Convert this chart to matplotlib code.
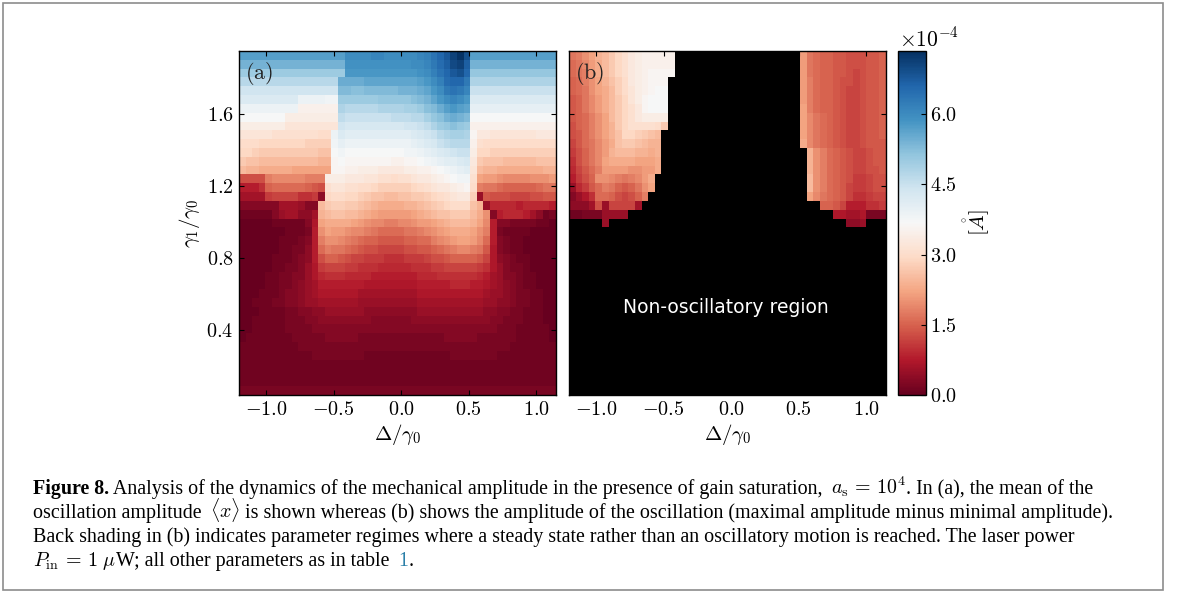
import numpy as np
import matplotlib
matplotlib.use("Agg")
import matplotlib.pyplot as plt
from matplotlib.patches import Rectangle

plt.rcParams['mathtext.fontset'] = 'cm'
plt.rcParams['font.family'] = ['Liberation Serif', 'DejaVu Serif']

W, H = 1179, 592

# mean amplitude (a), units of 1e-5 A, rows from the top, split into three column blocks
a_left = [
    [57]*16,
    [54]*16,
    [50]*16,
    [47]*15 + [55],
    [44]*15 + [53],
    [42, 42, 42, 42, 42, 42, 42, 42, 42, 39, 39, 39, 39, 38, 38, 50],
    [39, 39, 39, 39, 39, 39, 39, 39, 39, 35, 35, 35, 35, 35, 35, 48],
    [37, 37, 37, 37, 37, 37, 37, 34, 34, 34, 34, 34, 34, 34, 34, 46],
    [34, 34, 34, 34, 34, 34, 34, 32, 32, 32, 32, 32, 32, 32, 32, 44],
    [32, 32, 32, 32, 32, 31, 31, 31, 31, 31, 31, 31, 30, 30, 39, 42],
    [30, 30, 30, 29, 29, 29, 29, 29, 29, 29, 28, 28, 28, 28, 38, 40],
    [29, 29, 28, 27, 27, 27, 27, 27, 27, 27, 27, 27, 26, 26, 37, 38],
    [27, 26, 26, 25, 25, 25, 25, 25, 25, 25, 25, 25, 24, 24, 36, 37],
    [25, 24, 24, 23, 23, 23, 23, 23, 22, 22, 22, 22, 22, 22, 36, 36],
    [13, 13, 13, 13, 18, 19, 19, 19, 19, 19, 18, 18, 18, 34, 34, 34],
    [8, 8, 8, 10, 15, 16, 16, 16, 16, 16, 15, 14, 13, 31, 32, 32],
    [6, 6, 6, 6, 11, 12, 12, 12, 12, 10, 10, 11, 4, 29, 30, 30],
    [3, 3, 3, 3, 3, 3, 6, 6, 6, 5, 3, 3, 25, 27, 28, 28],
    [1, 1, 1, 1, 1, 3, 5, 6, 6, 4, 4, 6, 24, 25, 26, 26],
    [0, 0, 0, 0, 0, 1, 1, 1, 1, 1, 3, 7, 22, 23, 23, 23],
    [0, 0, 0, 0, 0, 0, 0, 1, 1, 1, 2, 8, 20, 22, 21, 21],
    [0, 0, 0, 0, 0, 0, 1, 1, 1, 2, 3, 8, 18, 20, 20, 19],
    [0, 0, 0, 0, 0, 0, 1, 1, 2, 2, 4, 8, 16, 18, 17, 17],
    [0, 0, 0, 0, 0, 1, 1, 1, 2, 3, 4, 8, 13, 15, 15, 14],
    [0, 0, 0, 0, 0, 1, 1, 2, 2, 3, 5, 7, 11, 12, 12, 12],
    [0, 0, 0, 0, 1, 1, 2, 2, 3, 3, 5, 7, 9, 10, 10, 10],
    [0, 0, 0, 0, 1, 1, 2, 2, 3, 4, 5, 6, 8, 8, 8, 8],
    [0, 0, 0, 1, 1, 1, 2, 3, 3, 4, 5, 6, 7, 7, 7, 7],
    [0, 0, 1, 1, 1, 2, 2, 3, 3, 4, 5, 5, 6, 6, 6, 6],
    [0, 0, 0, 1, 1, 1, 1, 2, 2, 3, 3, 4, 4, 5, 5, 5],
    [0, 0, 1, 1, 1, 1, 1, 2, 2, 2, 3, 3, 4, 4, 4, 4],
    [0, 0, 1, 1, 1, 1, 1, 2, 2, 2, 2, 3, 3, 3, 3, 3],
    [0, 1, 1, 1, 1, 1, 1, 1, 2, 2, 2, 2, 2, 3, 3, 3],
    [1, 1, 1, 1, 1, 1, 1, 1, 1, 2, 2, 2, 2, 2, 2, 2],
    [1, 1, 1, 1, 1, 1, 1, 1, 1, 1, 1, 2, 2, 2, 2, 2],
    [1, 1, 1, 1, 1, 1, 1, 1, 1, 1, 1, 1, 1, 1, 1, 1],
    [1, 1, 1, 1, 1, 1, 1, 1, 1, 1, 1, 1, 1, 1, 1, 1],
    [1, 1, 1, 1, 1, 1, 1, 1, 1, 1, 1, 1, 1, 1, 1, 1],
    [2, 2, 2, 2, 2, 2, 2, 2, 2, 2, 2, 2, 2, 2, 2, 2],
]
a_mid = [
    [60, 60, 60, 60, 61, 61, 60, 60, 60, 60, 60, 61, 62, 64, 66, 68, 71, 73, 69],
    [59, 59, 59, 59, 59, 59, 59, 59, 59, 59, 60, 60, 61, 63, 65, 67, 70, 71, 67],
    [58, 58, 58, 58, 58, 58, 58, 58, 58, 58, 58, 59, 60, 62, 64, 66, 68, 69, 66],
    [55, 55, 55, 56, 56, 56, 56, 56, 56, 56, 56, 57, 58, 60, 62, 65, 66, 66, 63],
    [53, 52, 52, 53, 53, 53, 53, 53, 54, 54, 54, 55, 56, 58, 60, 63, 64, 63, 61],
    [50, 50, 50, 50, 50, 51, 51, 51, 51, 51, 52, 53, 54, 56, 58, 60, 61, 60, 58],
    [47, 47, 47, 47, 47, 48, 48, 48, 48, 49, 49, 50, 52, 53, 55, 57, 58, 57, 56],
    [45, 45, 45, 45, 45, 45, 45, 46, 46, 46, 47, 47, 49, 51, 52, 54, 55, 54, 53],
    [43, 43, 43, 43, 43, 43, 43, 43, 43, 44, 44, 45, 46, 48, 50, 51, 52, 51, 50],
    [41, 41, 41, 41, 41, 41, 41, 41, 41, 41, 42, 43, 44, 45, 47, 48, 49, 49, 48],
    [39, 39, 39, 39, 39, 39, 39, 39, 39, 39, 40, 41, 42, 43, 45, 46, 47, 47, 47],
    [37, 37, 37, 37, 37, 37, 37, 37, 37, 38, 38, 39, 40, 41, 42, 43, 44, 45, 45],
    [36, 36, 36, 36, 36, 36, 36, 35, 35, 36, 36, 37, 38, 39, 40, 41, 41, 42, 43],
    [35, 35, 34, 34, 34, 33, 33, 33, 33, 34, 34, 35, 35, 36, 37, 38, 39, 40, 41],
    [33, 33, 33, 32, 32, 31, 31, 30, 31, 31, 32, 33, 33, 34, 35, 36, 37, 38, 38],
    [31, 31, 30, 30, 29, 28, 28, 28, 28, 28, 29, 30, 31, 32, 33, 33, 34, 35, 36],
    [29, 29, 28, 27, 26, 26, 25, 25, 26, 26, 27, 27, 28, 29, 30, 31, 32, 33, 33],
    [27, 27, 26, 25, 24, 23, 23, 23, 23, 24, 24, 25, 26, 27, 28, 29, 30, 30, 30],
    [25, 25, 24, 23, 22, 21, 21, 21, 21, 21, 22, 23, 24, 25, 26, 26, 27, 27, 27],
    [23, 22, 21, 20, 19, 19, 18, 18, 19, 19, 20, 21, 21, 22, 23, 24, 25, 25, 25],
    [20, 19, 19, 18, 17, 16, 16, 16, 16, 17, 17, 18, 19, 20, 21, 22, 23, 23, 23],
    [18, 17, 16, 15, 15, 14, 14, 14, 14, 15, 15, 16, 16, 18, 19, 20, 21, 22, 22],
    [16, 15, 14, 13, 13, 12, 12, 12, 12, 13, 13, 14, 14, 15, 16, 17, 18, 19, 19],
    [13, 12, 12, 11, 11, 11, 10, 10, 10, 11, 11, 11, 12, 13, 13, 14, 15, 15, 15],
    [11, 11, 10, 10, 10, 9, 9, 9, 9, 9, 10, 10, 10, 11, 11, 12, 12, 12, 12],
    [9, 9, 9, 9, 8, 8, 8, 8, 8, 8, 8, 9, 9, 9, 10, 10, 10, 10, 10],
    [8, 8, 8, 7, 7, 7, 7, 7, 7, 7, 7, 8, 8, 8, 8, 8, 9, 9, 9],
    [7, 7, 6, 6, 6, 6, 6, 6, 6, 6, 6, 7, 7, 7, 7, 7, 7, 7, 7],
    [6, 6, 5, 5, 5, 5, 5, 5, 5, 5, 5, 6, 6, 6, 6, 6, 6, 6, 6],
    [5, 5, 5, 4, 4, 4, 4, 4, 4, 4, 4, 5, 5, 5, 5, 5, 5, 5, 5],
    [4, 4, 4, 4, 3, 3, 3, 3, 3, 3, 4, 4, 4, 4, 4, 4, 4, 4, 4],
    [3, 3, 3, 3, 3, 3, 3, 3, 3, 3, 3, 3, 3, 3, 3, 3, 3, 3, 3],
    [3, 3, 2, 2, 2, 2, 2, 2, 2, 2, 2, 2, 2, 2, 2, 3, 3, 3, 3],
    [2, 2, 2, 2, 2, 2, 2, 2, 2, 2, 2, 2, 2, 2, 2, 2, 2, 2, 2],
    [2, 2, 2, 1, 1, 1, 1, 1, 1, 1, 1, 1, 1, 1, 1, 1, 2, 2, 2],
    [1, 1, 1, 1, 1, 1, 1, 1, 1, 1, 1, 1, 1, 1, 1, 1, 1, 1, 1],
    [1, 1, 1, 1, 1, 1, 1, 1, 1, 1, 1, 1, 1, 1, 1, 1, 1, 1, 1],
    [1, 1, 1, 1, 1, 1, 1, 1, 1, 1, 1, 1, 1, 1, 1, 1, 1, 1, 1],
    [2, 2, 2, 2, 2, 2, 2, 2, 2, 2, 2, 2, 2, 2, 2, 2, 2, 2, 2],
]
a_right = [
    [57]*13,
    [54]*13,
    [51]*13,
    [48]*13,
    [45]*13,
    [42]*13,
    [40]*13,
    [37]*13,
    [35]*13,
    [36, 33, 33, 32, 32, 32, 32, 32, 32, 32, 33, 33, 33],
    [35, 31, 30, 30, 30, 30, 30, 30, 30, 30, 30, 30, 30],
    [34, 29, 29, 28, 28, 28, 28, 28, 28, 28, 28, 28, 28],
    [33, 27, 26, 26, 26, 25, 25, 25, 25, 25, 26, 26, 26],
    [32, 25, 24, 24, 23, 23, 23, 23, 23, 23, 23, 24, 24],
    [31, 22, 21, 21, 20, 19, 19, 19, 19, 20, 20, 20, 21],
    [30, 18, 17, 17, 16, 15, 15, 15, 15, 15, 16, 17, 17],
    [28, 5, 14, 13, 13, 13, 12, 12, 12, 13, 13, 14, 14],
    [26, 24, 5, 9, 9, 9, 9, 8, 9, 9, 9, 9, 8],
    [25, 23, 20, 3, 8, 9, 9, 9, 8, 6, 4, 1, 2],
    [24, 22, 19, 8, 3, 3, 2, 2, 2, 2, 1, 1, 0],
    [22, 20, 18, 8, 2, 1, 1, 1, 1, 0, 0, 0, 0],
    [21, 19, 16, 8, 3, 2, 1, 1, 0, 0, 0, 0, 0],
    [18, 17, 14, 7, 3, 2, 1, 1, 0, 0, 0, 0, 0],
    [15, 14, 12, 7, 4, 3, 2, 1, 1, 0, 0, 0, 0],
    [12, 11, 10, 7, 5, 3, 2, 2, 1, 0, 0, 0, 0],
    [10, 9, 8, 6, 5, 3, 3, 2, 1, 1, 0, 0, 0],
    [8, 8, 7, 6, 5, 4, 3, 2, 1, 1, 0, 0, 0],
    [7, 7, 6, 5, 5, 4, 3, 2, 2, 1, 1, 0, 0],
    [6, 6, 5, 5, 4, 4, 3, 2, 2, 1, 1, 0, 0],
    [5, 5, 4, 4, 3, 3, 2, 2, 1, 1, 1, 0, 0],
    [4, 4, 4, 3, 3, 2, 2, 2, 1, 1, 1, 0, 0],
    [3, 3, 3, 3, 2, 2, 2, 1, 1, 1, 1, 1, 0],
    [3, 2, 2, 2, 2, 2, 2, 1, 1, 1, 1, 1, 0],
    [2, 2, 2, 2, 2, 2, 1, 1, 1, 1, 1, 1, 1],
    [2, 2, 2, 2, 1, 1, 1, 1, 1, 1, 1, 1, 1],
    [1, 1, 1, 1, 1, 1, 1, 1, 1, 1, 1, 1, 1],
    [1, 1, 1, 1, 1, 1, 1, 1, 1, 1, 1, 1, 1],
    [1, 1, 1, 1, 1, 1, 1, 1, 1, 1, 1, 1, 1],
    [2, 2, 2, 2, 2, 2, 2, 2, 2, 2, 2, 2, 2],
]

# oscillation amplitude (b): the two oscillating lobes, rest stays black
b_left = [
    [17, 18, 20, 22, 24, 25, 27, 29, 31, 33, 34, 35, 35, 35, 35, 35],
    [16, 17, 19, 21, 23, 25, 27, 29, 31, 33, 34, 35, 35, 35, 35, 35],
    [16, 17, 18, 21, 23, 25, 27, 29, 31, 33, 34, 35, 36, 36, 36, 36],
    [15, 16, 18, 20, 22, 24, 26, 28, 30, 33, 34, 35, 36, 36, 36],
    [15, 16, 17, 20, 22, 23, 25, 28, 30, 32, 34, 35, 36, 37, 37],
    [14, 15, 17, 19, 21, 23, 25, 27, 29, 32, 34, 36, 37, 37, 37],
    [14, 15, 17, 19, 21, 23, 25, 27, 29, 31, 33, 36, 37, 37, 37],
    [14, 15, 16, 18, 20, 22, 25, 27, 29, 31, 33, 34, 34, 34, 34],
    [13, 15, 16, 18, 20, 22, 24, 27, 29, 31, 31, 31, 31, 30, 27],
    [13, 14, 16, 18, 20, 22, 24, 26, 29, 29, 28, 27, 26, 25],
    [12, 14, 16, 17, 19, 21, 23, 26, 27, 27, 26, 25, 24, 24],
    [11, 13, 15, 17, 19, 21, 24, 25, 25, 25, 24, 24, 23, 24],
    [10, 13, 15, 17, 19, 22, 23, 23, 23, 23, 22, 22, 22, 23],
    [9, 12, 14, 16, 18, 21, 21, 21, 21, 20, 20, 21, 21, 23],
    [8, 11, 13, 15, 20, 20, 19, 18, 17, 18, 19, 21, 23],
    [5, 9, 11, 14, 16, 18, 17, 15, 14, 15, 17, 20, 22],
    [3, 5, 7, 10, 16, 16, 15, 13, 12, 13, 15, 18],
    [4, 4, 4, 6, 13, 5, 12, 12, 12, 12, 6],
    [1, 1, 2, 2, 2, 5, 5, 5, 5],
]
b_left_dip = 5       # the single cell in the row below b_left
b_left_dip_value = 5
b_right = [
    [21, 17, 16, 15, 15, 14, 14, 13, 13, 13, 14, 14, 15],
    [21, 17, 16, 15, 15, 14, 14, 13, 13, 13, 14, 14, 15],
    [21, 17, 16, 15, 15, 14, 14, 13, 12, 13, 14, 14, 15],
    [21, 18, 16, 15, 15, 14, 13, 13, 12, 13, 14, 14, 15],
    [21, 18, 16, 15, 15, 14, 13, 12, 12, 13, 14, 14, 15],
    [21, 18, 16, 15, 15, 14, 13, 12, 12, 13, 14, 14, 15],
    [22, 18, 16, 15, 15, 14, 13, 12, 12, 13, 14, 14, 15],
    [22, 19, 17, 16, 15, 14, 13, 12, 12, 13, 14, 14, 15],
    [22, 19, 17, 16, 15, 14, 13, 12, 12, 13, 14, 14, 15],
    [22, 19, 17, 16, 15, 14, 13, 12, 12, 13, 14, 14, 15],
    [23, 19, 17, 16, 15, 14, 13, 12, 12, 13, 14, 14, 14],
    [24, 20, 18, 16, 15, 14, 13, 12, 12, 13, 14, 14],
    [24, 20, 18, 16, 15, 14, 13, 12, 12, 13, 14, 14],
    [24, 20, 18, 16, 15, 14, 13, 12, 12, 13, 13, 14],
    [25, 20, 18, 16, 15, 14, 13, 11, 11, 12, 13, 13],
    [25, 20, 18, 16, 15, 14, 12, 11, 11, 12, 13, 13],
    [22, 19, 17, 16, 15, 14, 12, 10, 10, 11, 12, 12],
    [15, 15, 14, 12, 8, 8, 8, 10, 10, 11],
    [7, 7, 6, 6, 7, 2, 2, 2],
    [4, 4, 5],
]
b_right_start = [35]*11 + [36]*6 + [38, 40, 42]

xticks = [-1.0, -0.5, 0.0, 0.5, 1.0]
yticks = [0.4, 0.8, 1.2, 1.6]
cticks = [0.0, 1.5, 3.0, 4.5, 6.0]
n_rows, n_cols = 39, 48
x_edges = np.linspace(-1.2, 1.148, n_cols + 1)
y_edges = np.linspace(1.95, 0.04, n_rows + 1)
vmax = 7.35

grid_a = np.hstack([np.array(a_left), np.array(a_mid), np.array(a_right)]) / 10.0

grid_b = np.full((n_rows, n_cols), np.nan)
for r, vals in enumerate(b_left):
    grid_b[r, :len(vals)] = np.array(vals) / 10.0
grid_b[len(b_left), b_left_dip] = b_left_dip_value / 10.0
for r, vals in enumerate(b_right):
    s = b_right_start[r]
    grid_b[r, s:s + len(vals)] = np.array(vals) / 10.0


def box(x0, y0, x1, y1):
    return [x0 / W, 1 - y1 / H, (x1 - x0) / W, (y1 - y0) / H]


cmap = plt.get_cmap('RdBu').copy()
cmap.set_bad('black')

fig = plt.figure(figsize=(W / 100, H / 100), dpi=100)

# page frame
fig.add_artist(Rectangle((2.5 / W, 1 - 590 / H), 1160.5 / W, 587.5 / H, transform=fig.transFigure,
                         fill=False, ec='#8c8c8c', lw=1.2))

ax1 = fig.add_axes(box(239, 51, 556, 395))
ax2 = fig.add_axes(box(569, 51, 886, 395))
cax = fig.add_axes(box(898, 51, 926, 395))

m = ax1.pcolormesh(x_edges, y_edges, grid_a, cmap=cmap, vmin=0, vmax=vmax)
ax2.pcolormesh(x_edges, y_edges, np.ma.masked_invalid(grid_b), cmap=cmap, vmin=0, vmax=vmax)
ax2.set_facecolor('black')

for ax, tag in [(ax1, r'$\mathrm{(a)}$'), (ax2, r'$\mathrm{(b)}$')]:
    ax.set_xlim(-1.2, 1.148)
    ax.set_ylim(0.04, 1.95)
    ax.set_xticks(xticks)
    ax.set_xticklabels(['$%.1f$' % t for t in xticks], fontsize=14.5)
    ax.set_yticks(yticks)
    ax.tick_params(direction='in', top=True, right=True, length=3.5, width=0.8, pad=4)
    ax.set_xlabel(r'$\Delta/\gamma_0$', fontsize=15, labelpad=2)
    ax.text(0.02, 0.934, tag, transform=ax.transAxes, fontsize=16, color='#222222', va='center')
    for s in ax.spines.values():
        s.set_linewidth(1.0)

ax1.set_yticklabels(['$%.1f$' % t for t in yticks], fontsize=14.5)
ax2.set_yticklabels([])
ax1.set_ylabel(r'$\gamma_1/\gamma_0$', fontsize=15, labelpad=3)
ax2.text(0.495, 0.255, 'Non-oscillatory region', color='white', fontsize=13.5, ha='center', va='center',
         family='DejaVu Sans', transform=ax2.transAxes)

cb = fig.colorbar(m, cax=cax)
cb.set_ticks(cticks)
cb.set_ticklabels(['$%.1f$' % t for t in cticks], fontsize=14.5)
cax.tick_params(direction='in', length=3.5, width=0.8, pad=3)
cb.outline.set_linewidth(1.0)
cb.set_label(r'$[\mathring{A}]$', fontsize=15, labelpad=3)
fig.text(899 / W, 1 - 40 / H, r'$\times10^{-4}$', fontsize=15.5, va='center')

# caption, set piece by piece so each math run keeps its own box
size = 14.4
lines = [
    (494, [('Figure 8.', 'bold', 'black'),
           (' Analysis of the dynamics of the mechanical amplitude in the presence of gain saturation, ',
            'normal', 'black'),
           (r'$a_{\mathrm{s}}\,=\,10^4$', 'normal', 'black'),
           ('. In (a), the mean of the', 'normal', 'black')]),
    (518, [('oscillation amplitude ', 'normal', 'black'),
           (r'$\langle x\rangle$', 'normal', 'black'),
           (' is shown whereas (b) shows the amplitude of the oscillation '
            '(maximal amplitude minus minimal amplitude).', 'normal', 'black')]),
    (542, [('Back shading in (b) indicates parameter regimes where a steady state rather than an '
            'oscillatory motion is reached. The laser power', 'normal', 'black')]),
    (566, [(r'$P_{\mathrm{in}}\,=\,1\ \mu$', 'normal', 'black'),
           ('W; all other parameters as in table ', 'normal', 'black'),
           ('1', 'normal', '#2a7fa8'), ('.', 'normal', 'black')]),
]
fig.canvas.draw()
renderer = fig.canvas.get_renderer()
for y, parts in lines:
    x = 33
    for txt, weight, col in parts:
        t = fig.text(x / W, 1 - y / H, txt, fontsize=size, weight=weight, color=col, va='baseline',
                     family='Liberation Serif')
        x = t.get_window_extent(renderer).x1 + (3.5 if txt.endswith(' ') else 0)

fig.savefig('out.png', dpi=100)
